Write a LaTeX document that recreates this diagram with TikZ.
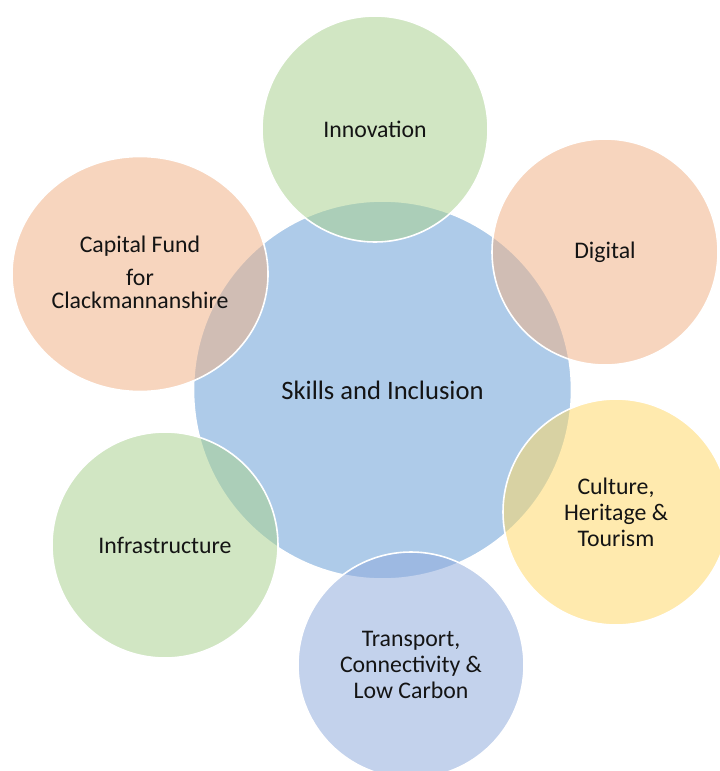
\documentclass[tikz,border=0pt]{standalone}
\usepackage{fontspec}
\setmainfont{Carlito}
\usetikzlibrary{shapes.geometric}
\definecolor{cblue}{HTML}{AECBE9}
\definecolor{cgreen}{HTML}{A9D18E}
\definecolor{cpeach}{HTML}{F0B186}
\definecolor{cyellow}{HTML}{FFD966}
\definecolor{cperi}{HTML}{8FAADC}
\definecolor{ctext}{HTML}{141414}
\tikzset{
  hub/.style={circle, draw=white, line width=1.6pt, fill=cblue, minimum size=378pt, inner sep=0pt,
    text=ctext, font=\fontsize{26.6}{30}\selectfont},
  petal/.style={circle, draw=white, line width=1.6pt, fill=#1, fill opacity=0.53, draw opacity=1,
    text opacity=1, minimum size=226pt, inner sep=0pt, align=center, text=ctext,
    font=\fontsize{23.8}{26}\selectfont},
  lbl/.style={text=ctext, align=center, inner sep=0pt}
}
\begin{document}
\begin{tikzpicture}[x=1pt,y=-1pt]
\useasboundingbox (0,0) rectangle (720,771);
\clip (0,0) rectangle (720,771);
\fill[white] (0,0) rectangle (720,771);
\node[hub] (hub) at (382.5,390) {Skills and Inclusion};
\node[petal=cgreen] (inno) at (375,129) {Innovation};
\node[petal=cpeach] (digi) at (605,252) {Digital};
\node[petal=cyellow] (cult) at (616,512) {Culture,\\Heritage \&\\Tourism};
\node[petal=cperi] (tran) at (411,665) {Transport,\\Connectivity \&\\Low Carbon};
\node[petal=cgreen] (infr) at (165,545) {Infrastructure};
\node[petal=cpeach, ellipse, minimum width=256pt, minimum height=235pt] (capf) at (140,274) {};
\node[lbl, font=\fontsize{23.8}{22.6}\selectfont, anchor=base] (capt) at (140,308.3) {Capital Fund\\[10.4pt]for\\Clackmannanshire};
\end{tikzpicture}
\end{document}
